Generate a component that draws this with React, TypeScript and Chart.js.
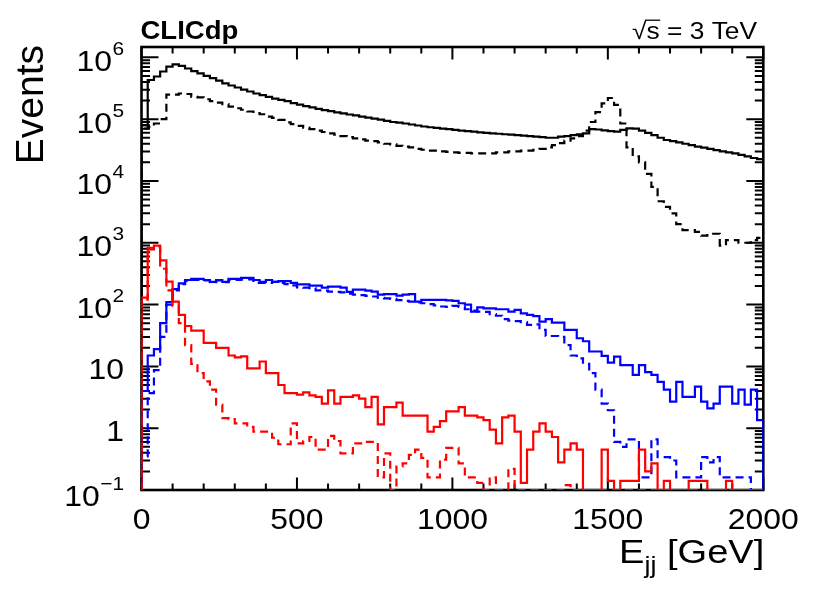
import { useEffect, useRef } from 'react';
import { Chart, registerables } from 'chart.js';

Chart.register(...registerables);

// ---------- data (20 GeV bins from 0 to 2000 GeV) ----------
const X_MIN = 0;
const X_MAX = 2000;
const BIN_WIDTH = 20;
const Y_MIN = 0.1;
const Y_MAX = 1.47e6;

const X_TICK_VALUES = [0, 500, 1000, 1500, 2000];
const X_TICK_LABELS = ['0', '500', '1000', '1500', '2000'];
const Y_TICK_VALUES = [0.1, 1, 10, 100, 1e3, 1e4, 1e5, 1e6];
const Y_TICK_BASES = ['10', '1', '10', '10', '10', '10', '10', '10'];
const Y_TICK_EXPONENTS = ['\u22121', '', '', '2', '3', '4', '5', '6'];

const blackSolid = [
  8e4, 4.3e5, 4.9e5, 5.9e5, 7.1e5, 7.7e5, 7.3e5, 6.6e5, 6.0e5, 5.5e5,
  5.0e5, 4.6e5, 4.2e5, 3.8e5, 3.5e5, 3.25e5, 3.0e5, 2.8e5, 2.6e5, 2.45e5,
  2.3e5, 2.15e5, 2.05e5, 1.95e5, 1.82e5, 1.72e5, 1.63e5, 1.55e5, 1.47e5, 1.4e5,
  1.35e5, 1.29e5, 1.24e5, 1.19e5, 1.15e5, 1.1e5, 1.06e5, 1.02e5, 9.8e4, 9.4e4,
  9.0e4, 8.8e4, 8.5e4, 8.2e4, 7.9e4, 7.6e4, 7.4e4, 7.2e4, 7.0e4, 6.9e4,
  6.7e4, 6.5e4, 6.4e4, 6.3e4, 6.1e4, 6.0e4, 5.9e4, 5.8e4, 5.7e4, 5.6e4,
  5.5e4, 5.4e4, 5.3e4, 5.2e4, 5.1e4, 5.0e4, 5.0e4, 5.2e4, 5.3e4, 5.5e4,
  5.7e4, 5.9e4, 6.9e4, 6.8e4, 6.6e4, 6.4e4, 6.3e4, 6.7e4, 7.1e4, 7.0e4,
  6.5e4, 6.0e4, 5.5e4, 5.0e4, 4.6e4, 4.4e4, 4.2e4, 4.0e4, 3.8e4, 3.6e4,
  3.45e4, 3.3e4, 3.15e4, 3.0e4, 2.9e4, 2.8e4, 2.65e4, 2.5e4, 2.35e4, 2.25e4,
];

const blackDashed = [
  7e4, 7.5e4, 8.5e4, 1.0e5, 2.5e5, 2.5e5, 2.6e5, 2.55e5, 2.3e5, 2.25e5,
  2.1e5, 1.95e5, 1.85e5, 1.75e5, 1.6e5, 1.5e5, 1.42e5, 1.33e5, 1.25e5, 1.2e5,
  1.1e5, 1.05e5, 9.7e4, 8.9e4, 8.3e4, 7.8e4, 7.3e4, 6.9e4, 6.5e4, 6.2e4,
  5.9e4, 5.6e4, 5.3e4, 5.1e4, 4.9e4, 4.7e4, 4.5e4, 4.4e4, 4.2e4, 4.0e4,
  3.9e4, 3.7e4, 3.6e4, 3.5e4, 3.3e4, 3.2e4, 3.1e4, 3.1e4, 3.0e4, 2.95e4,
  2.9e4, 2.85e4, 2.85e4, 2.8e4, 2.8e4, 2.8e4, 2.8e4, 2.9e4, 2.9e4, 3.0e4,
  3.0e4, 3.1e4, 3.1e4, 3.2e4, 3.3e4, 3.5e4, 3.8e4, 4.1e4, 4.5e4, 4.9e4,
  5.3e4, 6.5e4, 9.0e4, 1.3e5, 1.8e5, 2.2e5, 1.7e5, 8.5e4, 3.5e4, 2.5e4,
  2.0e4, 1.3e4, 8.0e3, 4.7e3, 3.8e3, 3.0e3, 2.0e3, 1.6e3, 1.6e3, 1.5e3,
  1.3e3, 1.4e3, 1.4e3, 9e2, 1.1e3, 1.1e3, 1.0e3, 1.0e3, 1.1e3, 1.2e3,
];

const blueSolid = [
  4.0, 15, 19, 50, 110, 178, 220, 250, 260, 260,
  250, 233, 250, 233, 260, 260, 270, 270, 250, 233,
  250, 233, 240, 240, 225, 212, 212, 203, 203, 188,
  195, 195, 188, 160, 174, 174, 168, 162, 145, 148,
  148, 140, 145, 148, 112, 119, 119, 119, 119, 117,
  115, 105, 100, 77, 90, 87, 87, 84, 84, 77,
  82, 72, 68, 65, 53, 58, 51, 51, 39, 39,
  28.5, 25.5, 17.4, 17.4, 14.8, 11.5, 14.4, 10.5, 10.5, 7.3,
  10.5, 8.1, 7.3, 5.6, 4.2, 2.7, 5.6, 3.2, 3.2, 4.7,
  2.7, 2.1, 2.5, 4.7, 4.7, 2.5, 4.2, 2.4, 4.2, 1.35,
];

const blueDashed = [
  0.35, 3.7, 8.7, 30, 100, 170, 215, 240, 250, 250,
  245, 230, 245, 230, 250, 250, 255, 255, 225, 225,
  225, 233, 225, 215, 205, 190, 188, 185, 170, 168,
  162, 160, 158, 150, 145, 142, 138, 135, 128, 126,
  124, 118, 115, 112, 108, 105, 102, 97, 93, 92,
  95, 92, 84, 80, 77, 76, 70, 66, 58, 55,
  54, 52, 47, 48, 39, 31, 31, 30, 22, 15,
  13.5, 11, 7.8, 4.2, 2.5, 1.95, 0.6, 0.5, 0.66, 0.66,
  0.16, 0.16, 0.66, 0.34, 0.34, 0.3, 0.16, 0.16, 0.16, 0.16,
  0.34, 0.28, 0.34, 0.16, 0.16, 0.16, 0.16, 0.16, 0, 0,
];

const redSolid = [
  130, 830, 900, 520, 235, 112, 68, 45, 38, 38,
  24, 24, 20, 20, 15, 14, 14.5, 9.3, 9.3, 12,
  7.8, 7.8, 5.0, 3.7, 3.7, 3.5, 3.8, 3.4, 3.2, 2.5,
  4.1, 2.5, 3.2, 3.2, 3.4, 3.0, 2.2, 3.2, 1.15, 2.2,
  2.2, 2.6, 1.6, 1.6, 1.6, 1.6, 0.88, 1.05, 1.3, 1.87,
  1.87, 2.2, 1.6, 1.6, 1.5, 1.35, 0.95, 0.57, 1.5, 1.6,
  0.88, 0.13, 0.45, 0.88, 1.2, 0.88, 0.72, 0.28, 0.45, 0.57,
  0.45, 0, 0, 0, 0.45, 0.14, 0, 0.14, 0.14, 0.14,
  0.45, 0.2, 0.27, 0, 0.14, 0, 0, 0, 0.14, 0.14,
  0.14, 0, 0, 0, 0.14, 0, 0, 0, 0, 0,
];

const redDashed = [
  120, 780, 850, 380, 170, 95, 50, 22, 11, 7.8,
  5.7, 4.2, 2.4, 1.45, 1.4, 1.2, 1.2, 1.05, 0.88, 0.88,
  0.88, 0.7, 0.55, 0.55, 1.2, 0.57, 0.62, 0.72, 0.45, 0.45,
  0.75, 0.62, 0.39, 0.39, 0.57, 0.57, 0.6, 0.6, 0.16, 0.39,
  0, 0.24, 0.27, 0.37, 0.45, 0.33, 0.16, 0.16, 0.31, 0.48,
  0.48, 0.27, 0.16, 0.16, 0.13, 0, 0.16, 0, 0, 0.22,
  0, 0, 0, 0, 0, 0, 0, 0, 0.12, 0,
  0, 0, 0, 0, 0, 0, 0, 0, 0, 0,
  0, 0, 0, 0, 0, 0, 0, 0, 0, 0,
  0, 0, 0, 0, 0, 0, 0, 0, 0, 0,
];

// ---------- helpers ----------
const FONT = '"Liberation Sans", Arial, Helvetica, sans-serif';
const SX = 1.12; // horizontal text stretch (ROOT text is a bit wider)

function histPoints(values: number[]) {
  const pts: { x: number; y: number }[] = [{ x: X_MIN, y: Y_MIN }];
  values.forEach((v, i) => pts.push({ x: X_MIN + i * BIN_WIDTH, y: v > Y_MIN ? v : Y_MIN }));
  pts.push({ x: X_MAX, y: values[values.length - 1] > Y_MIN ? values[values.length - 1] : Y_MIN });
  pts.push({ x: X_MAX, y: Y_MIN });
  return pts;
}

function drawText(
  ctx: CanvasRenderingContext2D,
  s: string,
  x: number,
  y: number,
  font: string,
  align: 'left' | 'right' | 'center',
  sx = SX,
) {
  ctx.save();
  ctx.font = font;
  const w = ctx.measureText(s).width * sx;
  const dx = align === 'right' ? -w : align === 'center' ? -w / 2 : 0;
  ctx.translate(x + dx, y);
  ctx.scale(sx, 1);
  ctx.textAlign = 'left';
  ctx.textBaseline = 'alphabetic';
  ctx.fillStyle = '#000';
  ctx.fillText(s, 0, 0);
  ctx.restore();
  return w;
}

function measure(ctx: CanvasRenderingContext2D, s: string, font: string, sx = SX) {
  ctx.save();
  ctx.font = font;
  const w = ctx.measureText(s).width * sx;
  ctx.restore();
  return w;
}

const rootFrame = {
  id: 'rootFrame',
  beforeDatasetsDraw(chart: any) {
    const { ctx, chartArea: a, scales } = chart;
    const xs = scales.x;
    const ys = scales.y;
    ctx.save();
    ctx.strokeStyle = '#000';
    ctx.lineWidth = 2;
    ctx.beginPath();
    // x ticks (major every 500, minor every 100), bottom and top
    for (let v = X_MIN; v <= X_MAX; v += 100) {
      const px = xs.getPixelForValue(v);
      const len = v % 500 === 0 ? 12.5 : 6.5;
      ctx.moveTo(px, a.bottom);
      ctx.lineTo(px, a.bottom - len);
      ctx.moveTo(px, a.top);
      ctx.lineTo(px, a.top + len);
    }
    // y ticks (log), left and right
    for (let d = -1; d <= 6; d++) {
      for (let k = 1; k <= 9; k++) {
        const v = k * Math.pow(10, d);
        if (v < Y_MIN * 0.999 || v > Y_MAX) continue;
        const py = ys.getPixelForValue(v);
        const len = k === 1 ? 17 : 8.5;
        ctx.moveTo(a.left, py);
        ctx.lineTo(a.left + len, py);
        ctx.moveTo(a.right, py);
        ctx.lineTo(a.right - len, py);
      }
    }
    ctx.stroke();
    ctx.lineWidth = 2.6;
    ctx.strokeRect(a.left, a.top, a.right - a.left, a.bottom - a.top);
    ctx.restore();
  },
  afterDraw(chart: any) {
    const { ctx, chartArea: a, scales } = chart;
    const xs = scales.x;
    const ys = scales.y;
    ctx.save();
    ctx.fillStyle = '#000';
    ctx.strokeStyle = '#000';

    const labelFont = `29px ${FONT}`;
    const expFont = `19px ${FONT}`;

    // x tick labels
    X_TICK_VALUES.forEach((v, i) => {
      drawText(ctx, X_TICK_LABELS[i], xs.getPixelForValue(v), 529, labelFont, 'center', 1.1);
    });

    // y tick labels
    const rightEdge = 124;
    Y_TICK_VALUES.forEach((v, i) => {
      const py = ys.getPixelForValue(v);
      const base = Y_TICK_BASES[i];
      const exp = Y_TICK_EXPONENTS[i];
      const baseY = v === Y_MIN ? py + 16 : py + 13.5;
      if (exp) {
        const we = measure(ctx, exp, expFont, 1.1);
        drawText(ctx, exp, rightEdge, baseY - 16, expFont, 'right', 1.1);
        drawText(ctx, base, rightEdge - we - 0.5, baseY, labelFont, 'right', 1.1);
      } else {
        drawText(ctx, base, rightEdge, py + 12.5, labelFont, 'right', 1.1);
      }
    });

    // y title
    ctx.save();
    ctx.font = `39px ${FONT}`;
    ctx.translate(43, a.top - 2);
    ctx.rotate(-Math.PI / 2);
    ctx.textAlign = 'right';
    ctx.textBaseline = 'alphabetic';
    ctx.fillText('Events', 0, 0);
    ctx.restore();

    // x title: E_{jj} [GeV], right aligned to frame
    const tFont = `34px ${FONT}`;
    const sFont = `24px ${FONT}`;
    const wE = measure(ctx, 'E', tFont);
    const wjj = measure(ctx, 'jj', sFont);
    const wRest = measure(ctx, ' [GeV]', tFont);
    const xStart = a.right + 1 - (wE + wjj + wRest);
    drawText(ctx, 'E', xStart, 563, tFont, 'left');
    drawText(ctx, 'jj', xStart + wE, 573, sFont, 'left');
    drawText(ctx, ' [GeV]', xStart + wE + wjj, 563, tFont, 'left');

    // CLICdp
    drawText(ctx, 'CLICdp', a.left - 1, 38.5, `bold 25px ${FONT}`, 'left', 1.1);

    // sqrt(s) = 3 TeV
    const eFont = `23.5px ${FONT}`;
    const wSq = measure(ctx, '\u221A', eFont);
    const wS = measure(ctx, 's', eFont);
    const wTail = measure(ctx, ' = 3 TeV', eFont);
    const x0 = 757 - (wSq + wS + wTail);
    drawText(ctx, '\u221A', x0, 38.5, eFont, 'left');
    drawText(ctx, 's', x0 + wSq, 38.5, eFont, 'left');
    drawText(ctx, ' = 3 TeV', x0 + wSq + wS, 38.5, eFont, 'left');
    ctx.font = eFont;
    const asc = ctx.measureText('\u221A').actualBoundingBoxAscent || 18;
    ctx.lineWidth = 1.3;
    ctx.beginPath();
    ctx.moveTo(x0 + wSq - 1.5, 38.5 - asc + 0.7);
    ctx.lineTo(x0 + wSq + wS + 0.5, 38.5 - asc + 0.7);
    ctx.stroke();

    ctx.restore();
  },
};

function makeDataset(values: number[], color: string, dashed: boolean) {
  return {
    data: histPoints(values),
    borderColor: color,
    borderWidth: 2.2,
    borderDash: dashed ? [8, 5] : [],
    pointRadius: 0,
    pointHoverRadius: 0,
    fill: false,
    stepped: 'before' as const,
    tension: 0,
  };
}

export default function App() {
  const ref = useRef<HTMLCanvasElement>(null);

  useEffect(() => {
    if (!ref.current) return;
    const chart = new Chart(ref.current, {
      type: 'line',
      data: {
        datasets: [
          makeDataset(redSolid, '#ff0000', false),
          makeDataset(redDashed, '#ff0000', true),
          makeDataset(blueSolid, '#0000ff', false),
          makeDataset(blueDashed, '#0000ff', true),
          makeDataset(blackSolid, '#000000', false),
          makeDataset(blackDashed, '#000000', true),
        ] as any,
      },
      options: {
        animation: false,
        responsive: false,
        maintainAspectRatio: false,
        events: [],
        layout: { padding: { left: 141.5, top: 47, right: 66.7, bottom: 109 } },
        plugins: {
          legend: { display: false },
          tooltip: { enabled: false },
          title: { display: false },
        },
        scales: {
          x: { type: 'linear', min: X_MIN, max: X_MAX, display: false },
          y: { type: 'logarithmic', min: Y_MIN, max: Y_MAX, display: false },
        },
      },
      plugins: [rootFrame],
    });
    return () => chart.destroy();
  }, []);

  return (
    <div style={{ position: 'fixed', left: 0, top: 0, width: 830, height: 599, background: '#fff' }}>
      <canvas ref={ref} width={830} height={599} style={{ display: 'block', width: 830, height: 599 }} />
    </div>
  );
}
